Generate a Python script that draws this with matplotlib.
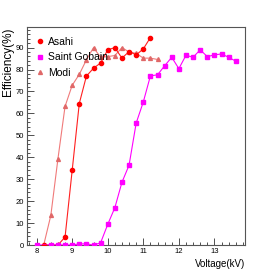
import matplotlib
matplotlib.use("Agg")
import matplotlib.pyplot as plt
from matplotlib.ticker import MultipleLocator

plt.rcParams['font.family'] = ['Liberation Sans', 'DejaVu Sans']

# Asahi
asahi_v = [8.2, 8.6, 8.8, 9.0, 9.2, 9.4, 9.6, 9.8, 10.0, 10.2, 10.4, 10.6, 10.8, 11.0, 11.2]
asahi_e = [0, 0, 3.6, 34, 64.5, 77.0, 80.6, 83.0, 89, 90, 85.2, 88.2, 86.7, 89.4, 94.6]

# Saint Gobain
sg_v = [8.0, 8.4, 8.6, 8.8, 9.0, 9.2, 9.4, 9.6, 9.8, 10.0, 10.2, 10.4, 10.6, 10.8,
        11.0, 11.2, 11.4, 11.6, 11.8, 12.0, 12.2, 12.4, 12.6, 12.8, 13.0, 13.2, 13.4, 13.6]
sg_e = [0, 0, 0, 0, 0, 0.5, 0.5, 0, 1, 9.4, 17, 28.6, 36.4, 55.6,
        65.2, 77.1, 77.6, 81.7, 85.6, 80.4, 86.5, 85.6, 89, 85.9, 86.7, 87.1, 85.6, 83.8]

# Modi
modi_v = [8.2, 8.4, 8.6, 8.8, 9.0, 9.2, 9.4, 9.6, 9.8, 10.0, 10.2, 10.4, 10.6, 10.8, 11.0, 11.2, 11.4]
modi_e = [0, 13.5, 39.3, 63.2, 72.8, 77.8, 84.4, 90, 85.6, 85.9, 86.4, 90, 88, 87.4, 85.2, 85.2, 84.6]

fig = plt.figure(figsize=(2.73, 2.73), dpi=100)
ax = fig.add_axes([27/273, 28/273, 218/273, 218/273])

ax.plot(modi_v, modi_e, color='#f07a7a', lw=0.8, marker='^', ms=2.8,
        mfc='#e06868', mec='#e06868', label='Modi', zorder=2)
ax.plot(asahi_v, asahi_e, color='#ff2020', lw=0.8, marker='o', ms=3.0,
        mfc='#ff0000', mec='#ff0000', label='Asahi', zorder=3)
ax.plot(sg_v, sg_e, color='#ff00ff', lw=0.8, marker='s', ms=2.7,
        mfc='#ff00ff', mec='#ff00ff', label='Saint Gobain', zorder=4)

ax.set_xlim(7.73, 13.86)
ax.set_ylim(0, 99.4)

ax.xaxis.set_major_locator(MultipleLocator(1))
ax.xaxis.set_minor_locator(MultipleLocator(0.2))
ax.yaxis.set_major_locator(MultipleLocator(10))
ax.yaxis.set_minor_locator(MultipleLocator(2))
ax.tick_params(which='both', direction='in', top=False, right=False,
               labelsize=5.5, width=0.6, color='#333333', pad=2)
ax.tick_params(which='major', length=5)
ax.tick_params(which='minor', length=2.5)
for s in ax.spines.values():
    s.set_linewidth(0.8)
    s.set_color('#555555')

ax.set_xlabel('Voltage(kV)', fontsize=7, loc='right', labelpad=3)
fig.text(8/273, 1 - 27/273, 'Efficiency(%)', fontsize=8.5, rotation=90,
         ha='center', va='top')

handles, labels = ax.get_legend_handles_labels()
order = [1, 2, 0]
ax.legend([handles[i] for i in order], [labels[i] for i in order],
          loc='upper left', frameon=False, fontsize=7.5, handlelength=1.2,
          handletextpad=0.25, borderaxespad=0.2, labelspacing=0.55,
          bbox_to_anchor=(0.0, 0.985))
for h in ax.get_legend().legend_handles:
    h.set_linestyle('none')

fig.savefig('out.png', dpi=100)
